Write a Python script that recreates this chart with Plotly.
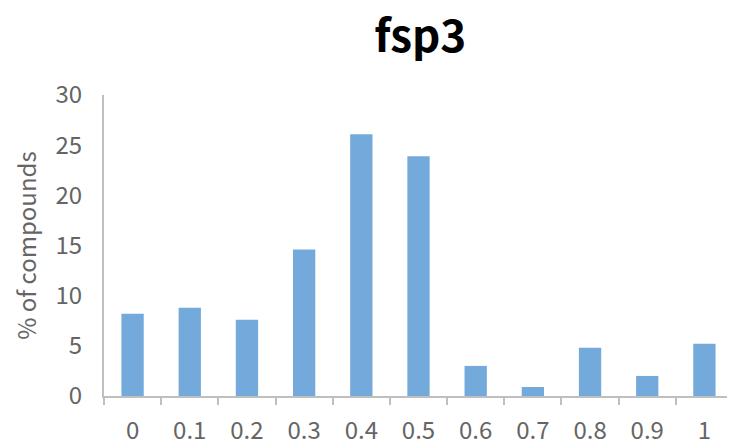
import plotly.graph_objects as go

categories = ["0", "0.1", "0.2", "0.3", "0.4", "0.5", "0.6", "0.7", "0.8", "0.9", "1"]
pct_compounds = [8.2, 8.8, 7.6, 14.6, 26.1, 23.9, 3.0, 0.9, 4.8, 2.0, 5.2]

fig = go.Figure()

fig.add_trace(go.Bar(x=categories, y=pct_compounds,
                     marker=dict(color='#74a9db', line=dict(width=0))))

# page body adds 8px offset, so figure is sized to the visible area
fig.update_layout(
    width=727, height=438,
    margin=dict(l=96, r=2, t=87, b=50),
    paper_bgcolor='white', plot_bgcolor='white',
    font=dict(family='Noto Sans CJK JP', color='#595959', size=22),
    title=dict(text='<b>fsp3</b>', x=0.567, xanchor='center', y=0.935, yanchor='middle',
               font=dict(size=44, color='black')),
    bargap=0.61,
    showlegend=False,
)

fig.update_xaxes(type='category', showline=True, linecolor='#bfbfbf', linewidth=2,
                 ticks='outside', tickson='boundaries', ticklen=7, tickcolor='#bfbfbf',
                 tickwidth=2, showgrid=False, automargin=False,
                 tickfont=dict(size=24, color='#656565'), ticklabelstandoff=12)
fig.update_yaxes(range=[0, 30], dtick=5, showline=True, linecolor='#bfbfbf', linewidth=2,
                 showgrid=False, zeroline=False, ticks='', ticklabelstandoff=15,
                 automargin=False, tickfont=dict(size=24, color='#656565'),
                 title=dict(text='% of compounds', standoff=16,
                            font=dict(size=24, color='#656565')))

fig.write_html("out.html")
